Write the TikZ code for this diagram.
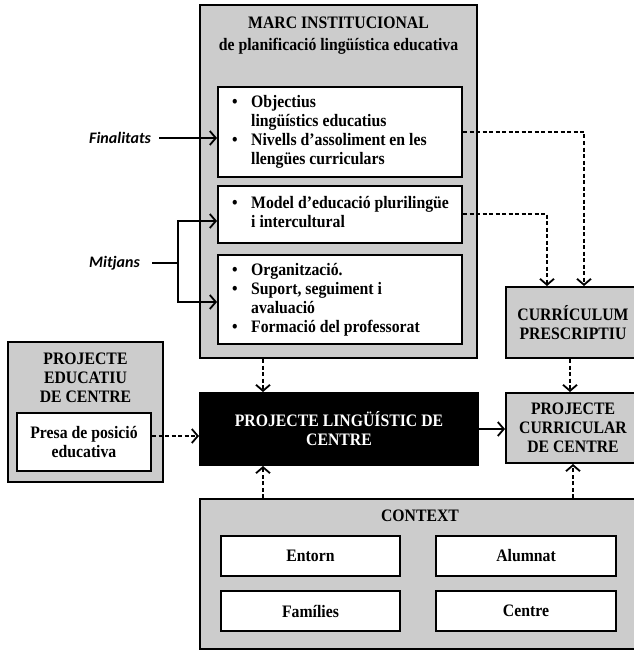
\documentclass[tikz,border=0pt]{standalone}
\usepackage{fontspec}
\setmainfont{Liberation Serif}[FakeStretch=0.9]
\newfontfamily\calib{Carlito}
\usetikzlibrary{arrows.meta}
\newcommand{\bul}{\makebox[19pt][l]{\textbullet}}
\newcommand{\ind}{\hspace*{19pt}}

\begin{document}
\begin{tikzpicture}[x=1pt,y=-1pt,
    font=\fontsize{17.5}{19}\selectfont\bfseries,
    graybox/.style={draw,line width=2pt,fill=gray!40,inner sep=0pt},
    whitebox/.style={draw,line width=2pt,fill=white,inner sep=0pt},
    blackbox/.style={draw,line width=2pt,fill=black,text=white,inner sep=0pt,align=center},
    txt/.style={align=center,inner sep=0pt},
    lst/.style={align=left,anchor=west,inner sep=0pt},
    side/.style={font=\fontsize{16}{19}\calib\bfseries\itshape,inner sep=0pt},
    link/.style={line width=1.8pt,-{Straight Barb[length=6pt,width=14pt]}},
    dlink/.style={link,dash pattern=on 4pt off 2.5pt}]
    \useasboundingbox (0,0) rectangle (633,650);

    % Marc institucional
    \node[graybox,minimum width=277pt,minimum height=353pt] (marc) at (338.5,181.5) {};
    \node[txt] (marcttl) at (338.5,23) {MARC INSTITUCIONAL};
    \node[txt] (marcsub) at (338.5,46) {de planificació lingüística educativa};
    \node[whitebox,minimum width=244pt,minimum height=90pt] (obj) at (340,132) {};
    \node[lst] (objtxt) at ([xshift=15pt]obj.west) {\bul Objectius\\\ind lingüístics educatius\\\bul Nivells d’assoliment en les\\\ind llengües curriculars};
    \node[whitebox,minimum width=244pt,minimum height=57pt] (model) at (340,214) {};
    \node[lst] (modeltxt) at ([xshift=15pt,yshift=2pt]model.west) {\bul Model d’educació plurilingüe\\\ind i intercultural};
    \node[whitebox,minimum width=244pt,minimum height=89pt] (org) at (340,299.5) {};
    \node[lst] (orgtxt) at ([xshift=15pt]org.west) {\bul Organització.\\\bul Suport, seguiment i\\\ind avaluació\\\bul Formació del professorat};

    % Finalitats i mitjans
    \node[side] (fin) at (120,138) {Finalitats};
    \draw[link,shorten <=8pt] (fin.east) -- (fin.east -| obj.west);
    \node[side] (mit) at (114.5,263) {Mitjans};
    \coordinate (fork) at (178,263);
    \coordinate (modin) at ([yshift=-7pt]model.west);
    \coordinate (orgin) at ([yshift=-2.5pt]org.west);
    \draw[line width=1.8pt,shorten <=12pt] (mit.east) -- (fork);
    \draw[link] (fork) |- (modin);
    \draw[link] (fork) |- (orgin);

    % Curriculum
    \node[graybox,txt,minimum width=134pt,minimum height=71pt] (curric) at (573,322.5) {CURRÍCULUM\\PRESCRIPTIU};
    \draw[dlink] (obj.east) -| ([xshift=11pt]curric.north);
    \draw[dlink] (model.east) -| ([xshift=-26pt]curric.north);

    % Projecte educatiu
    \node[graybox,minimum width=155pt,minimum height=140pt] (pec) at (85.5,412) {};
    \node[txt] (pecttl) at (85.5,378) {PROJECTE\\EDUCATIU\\DE CENTRE};
    \node[whitebox,txt,minimum width=134pt,minimum height=58pt] (presa) at (84,442) {Presa de posició\\educativa};

    % Projectes de centre
    \node[blackbox,minimum width=278pt,minimum height=72pt] (plc) at (339,429) {PROJECTE LINGÜÍSTIC DE\\CENTRE};
    \node[graybox,txt,minimum width=134pt,minimum height=70pt] (pcc) at (573,428) {PROJECTE\\CURRICULAR\\DE CENTRE};
    \coordinate (pin) at ([yshift=6pt]presa.east);
    \coordinate (a) at ([xshift=-76pt]plc.north);
    \coordinate (b) at ([xshift=-3pt]pcc.north);
    \draw[dlink] (pin) -- (pin -| plc.west);
    \draw[dlink] (a |- marc.south) -- (a);
    \draw[link] (plc.east) -- (plc.east -| pcc.west);
    \draw[dlink] (b |- curric.south) -- (b);

    % Context
    \node[graybox,minimum width=440pt,minimum height=150pt] (context) at (420,574) {};
    \node[txt] (contextttl) at (420,516) {CONTEXT};
    \node[whitebox,minimum width=179pt,minimum height=40pt] (entorn) at (310.5,556) {Entorn};
    \node[whitebox,minimum width=180pt,minimum height=40pt] (alumnat) at (526,556) {Alumnat};
    \node[whitebox,minimum width=179pt,minimum height=40pt] (families) at (310.5,611) {Famílies};
    \node[whitebox,minimum width=180pt,minimum height=40pt] (centre) at (526,611) {Centre};
    \draw[dlink] (a |- context.north) -- (a |- plc.south);
    \draw[dlink] (context.north -| pcc.south) -- (pcc.south);
\end{tikzpicture}
\end{document}
